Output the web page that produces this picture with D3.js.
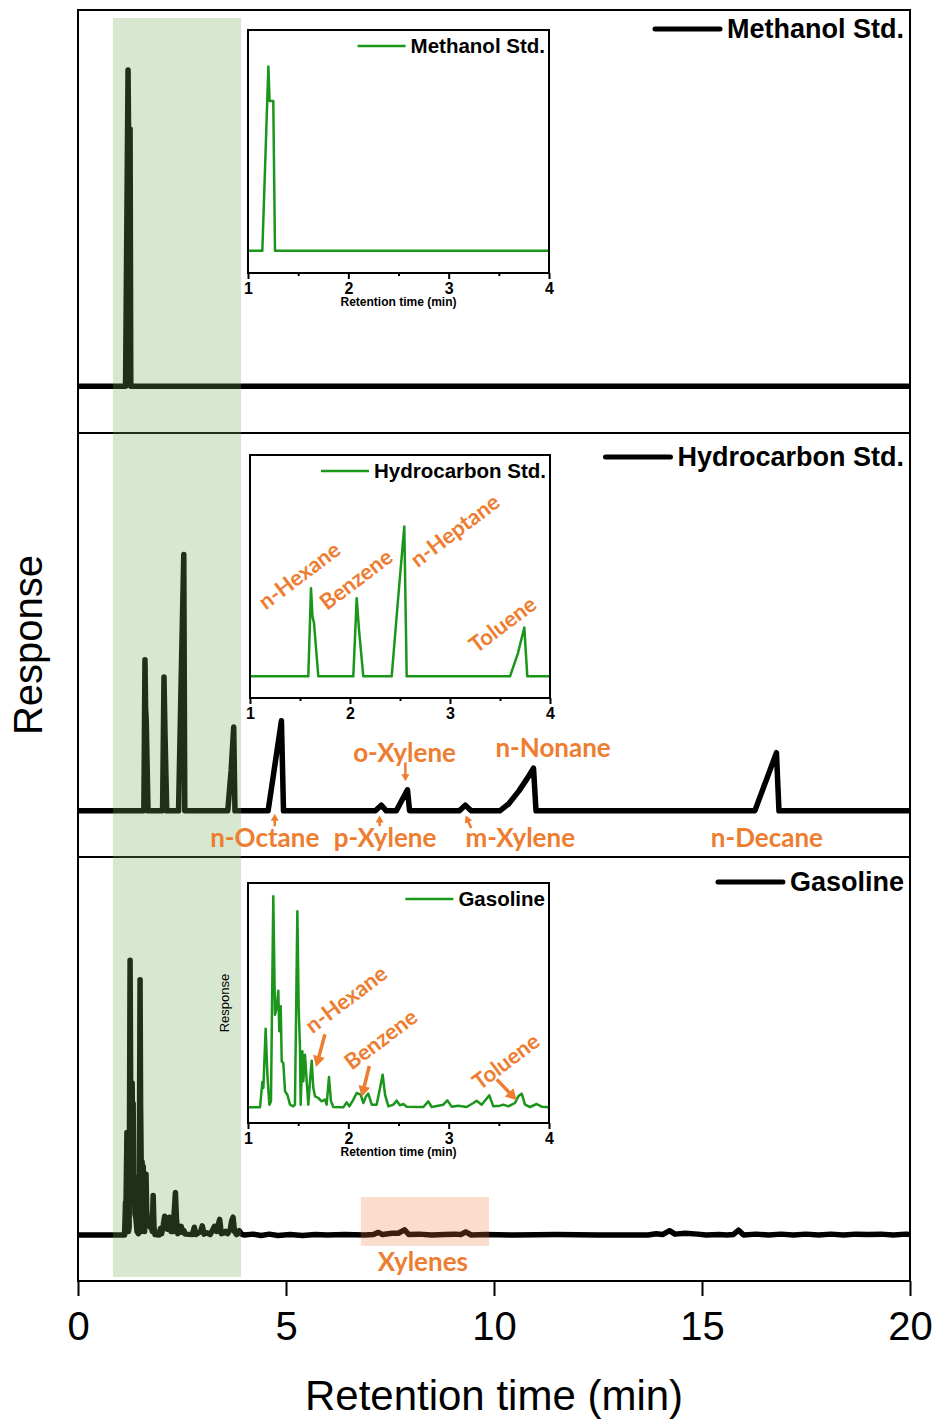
<!DOCTYPE html>
<html>
<head>
<meta charset="utf-8">
<script src="https://cdn.jsdelivr.net/npm/d3@7"></script>
<style>
  body { margin: 0; background: #fff; }
  svg { display: block; font-family: Arial, "Liberation Sans", sans-serif; }
</style>
</head>
<body>
<div id="chart"></div>
<script>
// ---------------- data ----------------
const xTicks = [0, 5, 10, 15, 20];
const insetTicks = [1, 2, 3, 4];
const insetMinorTicks = [1.5, 2.5, 3.5];
const seriesNames = ['Methanol Std.', 'Hydrocarbon Std.', 'Gasoline'];

// [retention time (min), response (a.u.)]
const methanol = [[0, 0], [1.143, 0], [1.203, 553], [1.215, 450], [1.252, 450], [1.269, 0], [20, 0]];

const hydrocarbon = [[0, 0], [1.583, 0], [1.61, 265], [1.625, 180], [1.64, 160], [1.683, 0],
  [2.033, 0], [2.067, 235], [2.09, 140], [2.133, 0],
  [2.417, 0], [2.48, 230], [2.543, 450], [2.567, 0],
  [3.6, 0], [3.68, 70], [3.743, 147], [3.773, 0],
  [4.57, 0], [4.89, 158], [4.94, 0],
  [7.15, 0], [7.29, 10], [7.41, 0],
  [7.65, 0], [7.92, 37], [7.97, 0],
  [9.17, 0], [9.31, 10], [9.45, 0],
  [10.14, 0], [10.35, 12], [10.6, 35], [10.8, 57], [10.95, 75], [11.01, 0],
  [16.27, 0], [16.79, 102], [16.85, 0], [20, 0]];

const gasoline = [[0, 0], [1.12, 0], [1.143, 76], [1.153, 58], [1.176, 236], [1.193, 98],
  [1.213, 8], [1.229, 18], [1.252, 633], [1.269, 278], [1.286, 298], [1.302, 350],
  [1.312, 228], [1.326, 303], [1.336, 138], [1.352, 133], [1.369, 48], [1.392, 38],
  [1.419, 8], [1.452, 3], [1.468, 8], [1.478, 248], [1.492, 588], [1.505, 298],
  [1.518, 178], [1.525, 8], [1.542, 168], [1.551, 78], [1.568, 158], [1.585, 78],
  [1.601, 8], [1.618, 78], [1.635, 140], [1.651, 58], [1.668, 33], [1.701, 28],
  [1.734, 18], [1.767, 23], [1.784, 8], [1.807, 91], [1.827, 18], [1.85, 1],
  [1.95, 0], [1.983, 15], [2.01, 3], [2.05, 23], [2.083, 43], [2.123, 38], [2.15, 13],
  [2.176, 33], [2.199, 41], [2.233, 8], [2.282, 8], [2.316, 58], [2.342, 98], [2.366, 38],
  [2.399, 3], [2.449, 8], [2.482, 20], [2.515, 6], [2.548, 10], [2.581, 2], [2.748, 1],
  [2.797, 18], [2.831, 1], [2.947, 8], [2.987, 21], [3.03, 2], [3.096, 5], [3.179, 1],
  [3.246, 13], [3.279, 20], [3.329, 8], [3.405, 36], [3.445, 3], [3.512, 5], [3.545, 8],
  [3.595, 3], [3.661, 13], [3.694, 33], [3.728, 41], [3.761, 8], [3.811, 1], [3.877, 10],
  [3.927, 2], [4.003, 0], [4.2, 2], [4.4, -1], [4.6, 2], [4.8, -1], [5.1, 1], [5.4, -1],
  [5.7, 1], [6.0, 0], [6.4, 1], [6.9, 0], [7.1, 1], [7.22, 6], [7.32, 1],
  [7.55, 4], [7.7, 4], [7.85, 12], [7.95, 1], [8.2, 2], [8.5, 0], [8.8, 1], [9.05, 2],
  [9.2, 1], [9.32, 7], [9.45, 0], [9.8, 1], [10.5, 0], [11.5, 1], [12.5, 0], [13.2, 0],
  [13.7, 0], [13.9, 3], [14.05, 1], [14.22, 10], [14.35, 2], [14.6, 4], [14.9, 2],
  [15.1, 0], [15.4, 1], [15.6, 0], [15.75, 1], [15.88, 11], [16.0, 0], [16.3, 2],
  [16.6, 0], [16.9, 2], [17.2, 0], [17.5, 2], [17.8, 0], [18.1, 2], [18.4, 0], [18.7, 2],
  [19.0, 1], [19.3, 2], [19.6, 0], [19.9, 2], [20, 1]];

// response ranges shown in each stacked panel / inset
const panelRanges = [[-82, 658], [-81, 663], [-106, 871]];
const insetRanges = [[-67, 663], [-65, 665], [-47, 673]];

// peak labels (time, response)
const hcLabels = [
  { text: 'n-Octane', t: 4.49, v: -47 }, { text: 'p-Xylene', t: 7.38, v: -47 },
  { text: 'o-Xylene', t: 7.85, v: 102 }, { text: 'm-Xylene', t: 10.63, v: -47 },
  { text: 'n-Nonane', t: 11.42, v: 110 }, { text: 'n-Decane', t: 16.56, v: -47 }];
const hcArrows = [[4.73, -27, 4.73, -5], [7.25, -27, 7.25, -8], [7.87, 85, 7.87, 52], [9.45, -30, 9.32, -8]];

const hcInsetLabels = [
  { text: 'n-Hexane', t: 1.493, v: 303 }, { text: 'Benzene', t: 2.06, v: 291 },
  { text: 'n-Heptane', t: 3.05, v: 438 }, { text: 'Toluene', t: 3.527, v: 156 }];
const gasInsetLabels = [
  { text: 'n-Hexane', t: 1.977, v: 324 }, { text: 'Benzene', t: 2.323, v: 204 },
  { text: 'Toluene', t: 3.571, v: 138 }];
const gasInsetArrows = [[1.767, 219, 1.678, 121], [2.209, 124, 2.133, 31], [3.479, 84, 3.678, 21]];

const fuelWindow = [0.84, 3.92];
const xyleneWindow = { t: [6.8, 9.88], v: [-25, 87.5], label: 'Xylenes', labelT: 8.29, labelV: -62 };

// ---------------- chart ----------------
const orange = '#ED7D31';
const green = '#1a961a';
const labelFont = 'Lato, "Open Sans", sans-serif';

const W = 938, H = 1423;
const frame = { left: 78, right: 910, top: 10, bottom: 1281 };
const panelEdges = [10, 433, 857, 1281];

const svg = d3.select('#chart').append('svg')
    .attr('width', W)
    .attr('height', H);

const x = d3.scaleLinear().domain([0, 20]).range([frame.left, frame.right]);

const yScales = panelRanges.map((r, i) => d3.scaleLinear()
    .domain(r)
    .range([panelEdges[i + 1], panelEdges[i]]));

const line = y => d3.line().x(d => x(d[0])).y(d => y(d[1]));

function drawArrow(g, x0, y0, x1, y1, w, headLen, headW) {
  const dx = x1 - x0, dy = y1 - y0, len = Math.hypot(dx, dy);
  const ux = dx / len, uy = dy / len;
  const bx = x1 - ux * headLen, by = y1 - uy * headLen;
  g.append('line')
      .attr('x1', x0).attr('y1', y0).attr('x2', bx + ux * 1).attr('y2', by + uy * 1)
      .attr('stroke', orange).attr('stroke-width', w);
  g.append('path')
      .attr('d', `M${x1},${y1}L${bx - uy * headW / 2},${by + ux * headW / 2}L${bx + uy * headW / 2},${by - ux * headW / 2}Z`)
      .attr('fill', orange);
}

// frame and panel dividers
svg.append('rect')
    .attr('x', frame.left).attr('y', frame.top)
    .attr('width', frame.right - frame.left).attr('height', frame.bottom - frame.top)
    .attr('fill', 'none').attr('stroke', '#000').attr('stroke-width', 2);

svg.selectAll('.divider')
    .data(panelEdges.slice(1, 3))
    .join('line')
    .attr('class', 'divider')
    .attr('x1', frame.left).attr('x2', frame.right)
    .attr('y1', d => d).attr('y2', d => d)
    .attr('stroke', '#000').attr('stroke-width', 2);

// main traces
[methanol, hydrocarbon, gasoline].forEach((data, i) => {
  svg.append('path')
      .datum(data)
      .attr('d', line(yScales[i]))
      .attr('fill', 'none')
      .attr('stroke', '#000')
      .attr('stroke-width', 5.5)
      .attr('stroke-linejoin', 'round');
});

// highlighted windows
svg.append('rect')
    .attr('x', x(fuelWindow[0])).attr('width', x(fuelWindow[1]) - x(fuelWindow[0]))
    .attr('y', frame.top + 8).attr('height', frame.bottom - frame.top - 12)
    .attr('fill', 'rgb(114,171,86)').attr('fill-opacity', 0.28);

const yg = yScales[2];
svg.append('rect')
    .attr('x', x(xyleneWindow.t[0])).attr('width', x(xyleneWindow.t[1]) - x(xyleneWindow.t[0]))
    .attr('y', yg(xyleneWindow.v[1])).attr('height', yg(xyleneWindow.v[0]) - yg(xyleneWindow.v[1]))
    .attr('fill', orange).attr('fill-opacity', 0.25);

svg.append('text')
    .attr('x', x(xyleneWindow.labelT)).attr('y', yg(xyleneWindow.labelV))
    .attr('dy', '0.35em')
    .attr('text-anchor', 'middle')
    .style('font-family', labelFont).style('font-weight', 700).style('font-size', '26px')
    .attr('fill', orange)
    .text(xyleneWindow.label);

// main legends
const legendY = [38, 466, 891];
seriesNames.forEach((name, i) => {
  const t = svg.append('text')
      .attr('x', 904).attr('y', legendY[i])
      .attr('text-anchor', 'end')
      .style('font-size', '27px').style('font-weight', 700)
      .text(name);
  const tw = t.node().getComputedTextLength();
  svg.append('line')
      .attr('x1', 904 - tw - 72).attr('x2', 904 - tw - 7)
      .attr('y1', legendY[i] - 9).attr('y2', legendY[i] - 9)
      .attr('stroke', '#000').attr('stroke-width', 5).attr('stroke-linecap', 'round');
});

// hydrocarbon peak labels
const yh = yScales[1];
svg.selectAll('.hc-label')
    .data(hcLabels)
    .join('text')
    .attr('class', 'hc-label')
    .attr('x', d => x(d.t)).attr('y', d => yh(d.v))
    .attr('dy', '0.35em')
    .attr('text-anchor', 'middle')
    .style('font-family', labelFont).style('font-weight', 700).style('font-size', '26px')
    .attr('fill', orange)
    .text(d => d.text);

const arrowG = svg.append('g');
hcArrows.forEach(a => drawArrow(arrowG, x(a[0]), yh(a[1]), x(a[2]), yh(a[3]), 2.5, 7, 8));

// main x axis
const xAxis = d3.axisBottom(x)
    .tickValues(xTicks)
    .tickSize(15)
    .tickSizeOuter(0)
    .tickPadding(16);

const xAxisG = svg.append('g')
    .attr('transform', `translate(0, ${frame.bottom})`)
    .call(xAxis);
xAxisG.select('.domain').remove();
xAxisG.selectAll('line').attr('stroke-width', 2);
xAxisG.selectAll('text')
    .style('font-family', 'Arial, "Liberation Sans", sans-serif')
    .style('font-size', '40px')
    .attr('fill', '#000');

svg.append('text')
    .attr('x', (frame.left + frame.right) / 2).attr('y', 1410)
    .attr('text-anchor', 'middle')
    .style('font-size', '42px')
    .text('Retention time (min)');

svg.append('text')
    .attr('transform', `translate(42, 645) rotate(-90)`)
    .attr('text-anchor', 'middle')
    .style('font-size', '40px')
    .text('Response');

// ---------------- insets ----------------
const insetBoxes = [
  { x0: 248, x1: 549, y0: 30, y1: 273, title: true },
  { x0: 250, x1: 550, y0: 455, y1: 698, title: false },
  { x0: 248, x1: 549, y0: 883, y1: 1123, title: true, ylabel: true }
];

const insetData = [methanol, hydrocarbon, gasoline];

insetBoxes.forEach((b, i) => {
  const g = svg.append('g');
  const xi = d3.scaleLinear().domain([1, 4]).range([b.x0, b.x1]);
  const yi = d3.scaleLinear().domain(insetRanges[i]).range([b.y1, b.y0]);

  g.append('rect')
      .attr('x', b.x0).attr('y', b.y0)
      .attr('width', b.x1 - b.x0).attr('height', b.y1 - b.y0)
      .attr('fill', '#fff');

  g.append('clipPath').attr('id', `clip${i}`)
    .append('rect')
      .attr('x', b.x0).attr('y', b.y0)
      .attr('width', b.x1 - b.x0).attr('height', b.y1 - b.y0);

  g.append('path')
      .datum(insetData[i])
      .attr('clip-path', `url(#clip${i})`)
      .attr('d', d3.line().x(d => xi(d[0])).y(d => yi(d[1])))
      .attr('fill', 'none')
      .attr('stroke', green)
      .attr('stroke-width', 2.5)
      .attr('stroke-linejoin', 'round');

  g.append('rect')
      .attr('x', b.x0).attr('y', b.y0)
      .attr('width', b.x1 - b.x0).attr('height', b.y1 - b.y0)
      .attr('fill', 'none').attr('stroke', '#000').attr('stroke-width', 2);

  const ax = g.append('g')
      .attr('transform', `translate(0, ${b.y1})`)
      .call(d3.axisBottom(xi).tickValues(insetTicks).tickSize(6).tickSizeOuter(0).tickPadding(4).tickFormat(d3.format('d')));
  ax.select('.domain').remove();
  ax.selectAll('line').attr('stroke-width', 2);
  ax.selectAll('text')
      .style('font-family', 'Arial, "Liberation Sans", sans-serif')
      .style('font-size', '16px').style('font-weight', 700)
      .attr('fill', '#000');

  const minor = g.append('g')
      .attr('transform', `translate(0, ${b.y1})`)
      .call(d3.axisBottom(xi).tickValues(insetMinorTicks).tickSize(3).tickSizeOuter(0).tickFormat(''));
  minor.select('.domain').remove();
  minor.selectAll('line').attr('stroke-width', 2);

  if (b.title) {
    g.append('text')
        .attr('x', (b.x0 + b.x1) / 2).attr('y', b.y1 + 33)
        .attr('text-anchor', 'middle')
        .style('font-size', '12px').style('font-weight', 700)
        .text('Retention time (min)');
  }
  if (b.ylabel) {
    g.append('text')
        .attr('transform', `translate(${b.x0 - 19}, ${(b.y0 + b.y1) / 2}) rotate(-90)`)
        .attr('text-anchor', 'middle')
        .style('font-size', '13px')
        .text('Response');
  }

  // inset legend
  const lt = g.append('text')
      .attr('x', b.x1 - 4).attr('y', b.y0 + 23)
      .attr('text-anchor', 'end')
      .style('font-size', '20.5px').style('font-weight', 700)
      .text(seriesNames[i]);
  const lw = lt.node().getComputedTextLength();
  g.append('line')
      .attr('x1', b.x1 - 4 - lw - 53).attr('x2', b.x1 - 4 - lw - 5)
      .attr('y1', b.y0 + 16).attr('y2', b.y0 + 16)
      .attr('stroke', green).attr('stroke-width', 2.5);

  b.xi = xi;
  b.yi = yi;
});

// inset annotations
function rotatedLabels(b, labels, size) {
  svg.append('g').selectAll('text')
      .data(labels)
      .join('text')
      .attr('transform', d => `translate(${b.xi(d.t)}, ${b.yi(d.v)}) rotate(-37)`)
      .attr('dy', '0.35em')
      .attr('text-anchor', 'middle')
      .style('font-family', labelFont).style('font-weight', 700).style('font-size', size)
      .attr('fill', orange)
      .text(d => d.text);
}

rotatedLabels(insetBoxes[1], hcInsetLabels, '22px');
rotatedLabels(insetBoxes[2], gasInsetLabels, '22px');

const gb = insetBoxes[2];
const insetArrowG = svg.append('g');
gasInsetArrows.forEach(a => drawArrow(insetArrowG, gb.xi(a[0]), gb.yi(a[1]), gb.xi(a[2]), gb.yi(a[3]), 3.5, 11, 12));
</script>
</body>
</html>
